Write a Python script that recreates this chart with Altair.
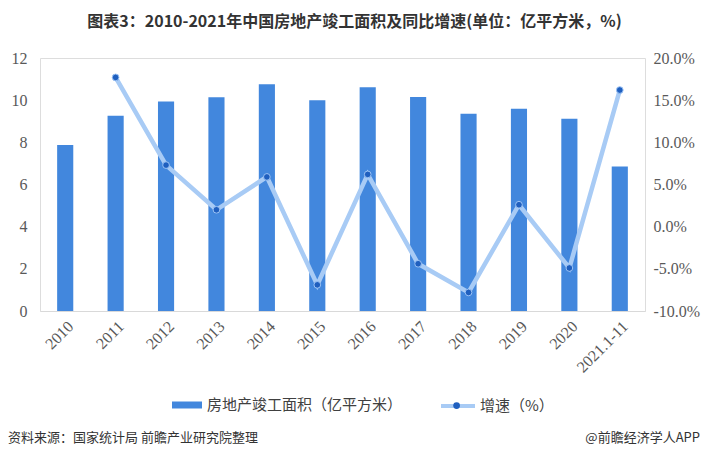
import altair as alt
import pandas as pd

years = ["2010", "2011", "2012", "2013", "2014", "2015", "2016", "2017", "2018", "2019", "2020", "2021.1-11"]
area = [7.87, 9.26, 9.94, 10.14, 10.75, 10.00, 10.61, 10.15, 9.36, 9.59, 9.12, 6.85]
growth = [None, 17.7, 7.3, 2.0, 5.9, -6.9, 6.2, -4.4, -7.8, 2.6, -4.9, 16.2]
left_ticks = [0, 2, 4, 6, 8, 10, 12]
right_ticks = [-10, -5, 0, 5, 10, 15, 20]

bar_name = "房地产竣工面积（亿平方米）"
line_name = "增速（%）"
title_text = "图表3：2010-2021年中国房地产竣工面积及同比增速(单位：亿平方米，%)"
source_text = "资料来源：国家统计局 前瞻产业研究院整理"
brand_text = "@前瞻经济学人APP"

df = pd.DataFrame({"year": years, "area": area, "growth": growth})
df["s_bar"] = bar_name
df["s_line"] = line_name
df["s_dot"] = "dot"
gdf = df.dropna(subset=["growth"])

CJK = "Noto Sans CJK SC"
SERIF = "Liberation Serif"
BAR_C = "#4287DD"
LINE_C = "#A8CBF5"
DOT_C = "#1F5FBF"

W = 605

xenc = alt.X("year:N", sort=years,
             scale=alt.Scale(paddingInner=0.68, paddingOuter=0.34),
             axis=alt.Axis(title=None, labelAngle=-45, labelFont=SERIF, labelFontSize=16,
                           labelColor="#595959", ticks=False, domainColor="#d9d9d9",
                           labelPadding=7, grid=False))

bars = alt.Chart(df).mark_bar().encode(
    x=xenc,
    y=alt.Y("area:Q", scale=alt.Scale(domain=[0, 12], nice=False),
            axis=alt.Axis(title=None, values=left_ticks, grid=False, domain=False, ticks=False,
                          labelFont=SERIF, labelFontSize=16, labelColor="#595959", labelPadding=13)),
    color=alt.Color("s_bar:N", scale=alt.Scale(domain=[bar_name], range=[BAR_C]),
                    legend=alt.Legend(title=None, orient="none", legendX=131, legendY=331,
                                      symbolType="M-1,-0.233H1V0.233H-1Z", symbolSize=900,
                                      labelFont=CJK, labelFontSize=15, labelColor="#404040",
                                      labelOffset=4, labelLimit=400, padding=0)),
)

yline = alt.Y("growth:Q", scale=alt.Scale(domain=[-10, 20], nice=False),
              axis=alt.Axis(title=None, orient="right", values=right_ticks, grid=False, domain=False,
                            ticks=False, labelFont=SERIF, labelFontSize=16, labelColor="#595959",
                            labelPadding=8,
                            labelExpr="(datum.value < 0 ? '-' : '') + format(abs(datum.value), '.1f') + '%'"))

line = alt.Chart(gdf).mark_line(strokeWidth=4.5).encode(
    x=alt.X("year:N", sort=years),
    y=yline,
    stroke=alt.Stroke("s_line:N", scale=alt.Scale(domain=[line_name], range=[LINE_C]),
                      legend=alt.Legend(title=None, orient="none", legendX=399, legendY=329,
                                        symbolType="stroke", symbolSize=1156, symbolStrokeWidth=4,
                                        labelFont=CJK, labelFontSize=15, labelColor="#404040",
                                        labelOffset=3, labelLimit=300, padding=0)),
)

dots = alt.Chart(gdf).mark_circle(size=45, opacity=1, stroke="#9cc3f5", strokeWidth=1).encode(
    x=alt.X("year:N", sort=years),
    y=alt.Y("growth:Q"),
    fill=alt.Fill("s_dot:N", scale=alt.Scale(domain=["dot"], range=[DOT_C]),
                  legend=alt.Legend(title=None, orient="none", legendX=411.6, legendY=342.6,
                                    symbolType="circle", symbolSize=45, labelExpr="''",
                                    padding=0, symbolStrokeWidth=0)),
)

growth_layer = alt.layer(line, dots).resolve_scale(stroke="independent", fill="independent")

foot = pd.DataFrame({"k": [0]})
src = alt.Chart(foot).mark_text(align="left", baseline="middle", font=CJK, fontSize=13,
                                color="#333333").encode(
    x=alt.value(-32), y=alt.value(380), text=alt.value(source_text))
brand = alt.Chart(foot).mark_text(align="right", baseline="middle", font=CJK, fontSize=13,
                                  color="#333333").encode(
    x=alt.value(W + 55), y=alt.value(380), text=alt.value(brand_text))

chart = alt.layer(bars, growth_layer, src, brand).resolve_scale(
    y="independent", color="independent", stroke="independent", fill="independent"
).properties(
    width=W, height=253,
    padding={"left": 32, "top": 50, "right": 694 - 32 - W, "bottom": 139},
    autosize=alt.AutoSizeParams(type="none"),
    title=alt.TitleParams(title_text, font=CJK, fontSize=16, fontWeight="bold", color="#333333",
                          anchor="middle", dx=12, offset=20),
).configure_view(stroke=None).configure(background="white")

chart.save("out.html", embed_options={"renderer": "svg", "actions": False})
